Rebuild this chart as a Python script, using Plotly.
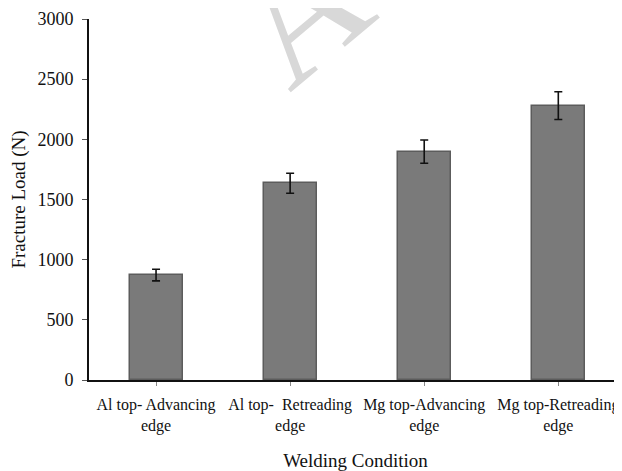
import plotly.graph_objects as go

categories = ["Al top- Advancing<br>edge", "Al top-\u00a0\u00a0Retreading<br>edge",
              "Mg top-Advancing<br>edge", "Mg top-Retreading<br>edge"]
fracture_load = [872, 1635, 1898, 2280]
error = [48, 83, 97, 115]
y_ticks = [0, 500, 1000, 1500, 2000, 2500, 3000]

FONT = "Liberation Serif, Times New Roman, serif"

fig = go.Figure()
fig.add_trace(go.Bar(
    x=list(range(len(categories))), y=fracture_load,
    width=0.395,
    marker=dict(color="#7a7a7a", line=dict(color="#5c5c5c", width=1.5)),
    error_y=dict(type="data", array=error, visible=True, color="#111111",
                 thickness=1.6, width=4),
))

# faint watermark letter at the top of the reference
fig.add_annotation(
    text="A", xref="paper", yref="paper", x=0.395, y=1.018,
    xanchor="center", yanchor="middle", showarrow=False, textangle=-40,
    font=dict(family=FONT, size=165, color="#d8d8d8"),
)

# the page body has an 8px margin: the figure is sized/offset to compensate
fig.update_layout(
    width=614, height=463,
    margin=dict(l=81, r=0, t=11, b=91, autoexpand=False),
    paper_bgcolor="white", plot_bgcolor="white",
    showlegend=False, bargap=0,
    font=dict(family=FONT, color="#111111"),
    xaxis=dict(
        range=[-0.5, 3.475], automargin=False,
        tickmode="array", tickvals=list(range(len(categories))), ticktext=categories,
        tickfont=dict(size=16, family=FONT, color="#111111"),
        ticklabelstandoff=5,
        showline=True, linecolor="#111111", linewidth=1.5,
        ticks="outside", ticklen=4, tickcolor="#888888", tickwidth=1,
        showgrid=False, zeroline=False,
        title=dict(text="Welding Condition", font=dict(size=19, family=FONT, color="#111111"),
                   standoff=24),
    ),
    yaxis=dict(
        range=[0, 3000], automargin=False,
        tickmode="array", tickvals=y_ticks,
        tickfont=dict(size=18, family=FONT, color="#111111"),
        ticklabelstandoff=5,
        showline=True, linecolor="#111111", linewidth=2,
        ticks="outside", ticklen=5, tickcolor="#555555", tickwidth=1,
        showgrid=False, zeroline=False,
        title=dict(text="Fracture Load (N)", font=dict(size=19, family=FONT, color="#111111"),
                   standoff=8),
    ),
)

fig.write_html("out.html")
